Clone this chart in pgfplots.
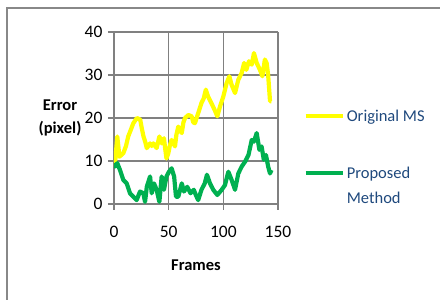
\documentclass[border=0pt]{standalone}
\usepackage{fontspec}
\setmainfont{Carlito}
\usepackage{pgfplots}
\pgfplotsset{compat=1.18}
\definecolor{msyellow}{RGB}{255,255,0}
\definecolor{pmgreen}{RGB}{0,176,80}
\definecolor{gridgray}{RGB}{128,128,128}
\definecolor{framegray}{RGB}{136,136,136}
\definecolor{legblue}{RGB}{31,73,125}
\begin{document}
\begin{tikzpicture}[x=1pt,y=1pt]
\useasboundingbox (0,0) rectangle (440,300);
\draw[line width=2pt, framegray] (7,-2) -- (7,292) -- (442,292);
\begin{axis}[
  at={(114pt,96pt)}, anchor=south west,
  scale only axis, width=164pt, height=172pt,
  xmin=0, xmax=150, ymin=0, ymax=40,
  xtick={0,50,100,150}, ytick={0,10,20,30,40},
  grid=major, grid style={gridgray, line width=1.4pt},
  axis lines=left, axis line style={gridgray, line width=1.4pt, -},
  tick style={gridgray, line width=1.4pt},
  tick align=outside, major tick length=6pt,
  tick label style={font=\fontsize{17.5}{20}\selectfont, black},
  x tick label style={yshift=-13pt},
  y tick label style={xshift=-2pt},
  /pgf/number format/assume math mode=true,
  legend cell align=left,
  legend image code/.code={\draw[#1] (0pt,5.5pt) -- (37pt,5.5pt);},
  legend style={draw=none, fill=none, at={(rel axis cs:1.155,0.56)}, anchor=north west,
    inner sep=0pt, row sep=34pt, cells={anchor=base west},
    nodes={font=\fontsize{16.5}{25}\selectfont, text=legblue}},
]
\addplot[msyellow, line width=4.2pt, line join=round] coordinates {
(0,8.5)(1,9.5)(3,15.7)(5,11)(8.5,11.8)(11,13.5)(13,15.7)(15,17)(17.7,18.8)(21,20)(24,19.6)(25.5,17.5)(27,15.7)(28.5,14.5)(30,13)(33,14.1)(34.5,13.5)(36,14.1)(39,13)(41.5,15.7)(43.6,14.1)(45.7,15.3)(47,12.5)(48,10.6)(49.7,11.8)(51,13.5)(52.7,14.9)(55.8,13.4)(57,16)(58.8,18)(60.5,17)(62,16.5)(63.5,19)(65,20)(68,20.7)(71,20.4)(72.5,19)(74,18.8)(77,21.1)(80,23.5)(82,24.5)(84,26.6)(86,25)(89,23.5)(92,21.9)(94.5,20.4)(97,22.7)(100,25)(103,28.1)(105.5,29.7)(107.6,27.7)(110.7,25.8)(113.7,28.9)(116.8,30.5)(119,32.8)(121,31.2)(123.5,33.2)(126,32.4)(128,35.1)(130.5,32.8)(133.5,31.2)(135.7,29.7)(138,33.6)(139.6,32.8)(141,30)(142.7,23.9)(144,23.9)
};
\addlegendentry{Original MS}
\addplot[pmgreen, line width=4.2pt, line join=round] coordinates {
(0,9.5)(1,8.7)(3,9.5)(5.5,7.9)(8.5,5.6)(11.6,4.8)(14.6,2.5)(17.7,1.7)(20.7,0.9)(23.8,2.9)(26.8,2.5)(28.4,0.5)(30,4)(33,6.4)(34.5,2.5)(36.6,4.8)(39,3.3)(41.5,0.5)(43.6,6.4)(45.7,3.3)(48,6.4)(50.3,7.5)(52.7,8.3)(55,6.4)(56.7,1.7)(58.8,1.7)(62,4.8)(64,2.9)(67,4)(70,2.5)(73,3.3)(75,2)(77,0.9)(80,3.3)(83,4.8)(85,6.8)(87.8,4.8)(90.8,3.3)(94.5,2.1)(98.5,3.3)(101.5,4.4)(104.6,7.5)(107.6,5.6)(110.7,3.3)(113.7,7.1)(116.8,8.7)(120,9.9)(123,11.4)(126,14.9)(128,14.5)(130.5,16.5)(133,12.6)(135,13.4)(137,10.3)(139,11.4)(141,8.7)(142.7,7.1)(144,7.9)
};
\addlegendentry{\begin{tabular}[t]{@{}l@{}}Proposed\\Method\end{tabular}}
\end{axis}
\node[font=\bfseries\fontsize{16.5}{23}\selectfont, align=center] at (60,182.5) {Error\\(pixel)};
\node[font=\bfseries\fontsize{16.5}{20}\selectfont] at (196,35) {Frames};
\end{tikzpicture}
\end{document}
